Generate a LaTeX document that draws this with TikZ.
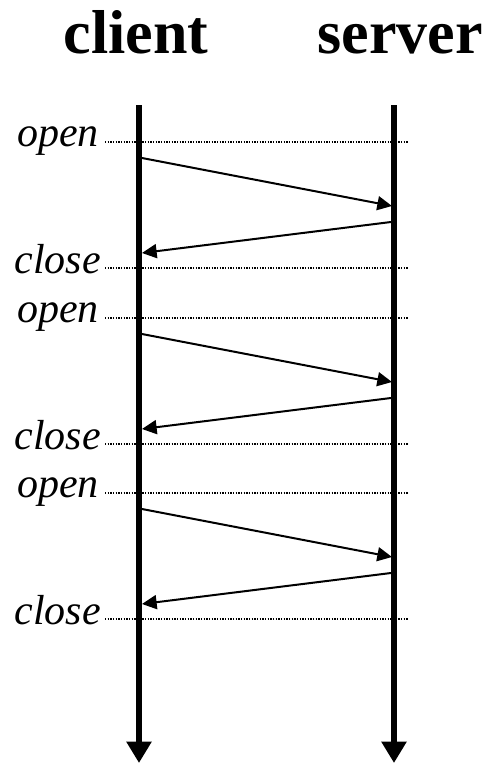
\documentclass[tikz,border=0pt]{standalone}
\usepackage{fontspec}
\setmainfont{Liberation Serif}
\usetikzlibrary{arrows.meta}
\tikzset{
  every picture/.style={line join=round, >=Stealth},
  head/.style={font=\fontsize{46.5}{50}\selectfont\bfseries, inner sep=0pt, anchor=base},
  lbl/.style={font=\fontsize{31.5}{36}\selectfont\itshape, inner sep=0pt, anchor=base east},
  life/.style={line width=4.5pt, -{Triangle[length=16pt,width=18pt]}},
  tick/.style={line width=1pt, dash pattern=on 1pt off 1pt},
  msg/.style={line width=1.5pt, -{Triangle[length=11pt,width=10.5pt]}},
}
\begin{document}
\begin{tikzpicture}[x=0.75pt,y=-0.75pt]
\useasboundingbox(0,0)rectangle(493,764);
\node[head](client)at(136,53){client};
\node[head](server)at(400,53){server};
\coordinate(ctop)at(139,105);
\coordinate(cend)at(139,763);
\coordinate(stop)at(394,105);
\coordinate(send)at(394,763);
% open / close rounds
\foreach \i/\y in {1/0,2/176,3/351}{
  \coordinate(o\i)at(105,142+\y);
  \coordinate(oe\i)at(408,142+\y);
  \coordinate(c\i)at(105,268+\y);
  \coordinate(ce\i)at(408,268+\y);
  \coordinate(req\i)at(142,158+\y);
  \coordinate(reqe\i)at(392,206+\y);
  \coordinate(rep\i)at(391,222+\y);
  \coordinate(repe\i)at(142,253+\y);
  \draw[tick](o\i)--(oe\i);
  \draw[tick](c\i)--(ce\i);
  \node[lbl](open\i)at([xshift=-4.5pt,yshift=-3pt]o\i){open};
  \node[lbl](close\i)at([xshift=-3pt,yshift=-4pt]c\i){close};
  \draw[msg](req\i)--(reqe\i);
  \draw[msg](rep\i)--(repe\i);
}
\draw[life](ctop)--(cend);
\draw[life](stop)--(send);
\end{tikzpicture}
\end{document}
